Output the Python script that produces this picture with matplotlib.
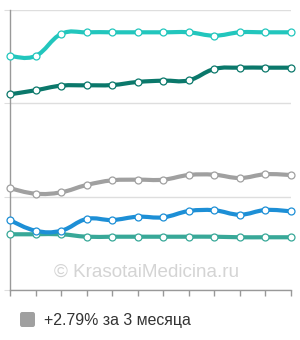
import matplotlib
matplotlib.use("Agg")
import matplotlib.pyplot as plt
from matplotlib.path import Path
from matplotlib.patches import PathPatch, FancyBboxPatch
import numpy as np

plt.rcParams['font.family'] = ['Liberation Sans', 'DejaVu Sans']

months = list(range(12))
series_top = [250.7, 250.7, 274.3, 276.1, 276.1, 276.1, 276.1, 276.1, 272.5, 276.1, 276.1, 276.1]
series_dark = [209.7, 214.0, 218.9, 219.3, 219.6, 222.9, 224.3, 224.7, 236.8, 238.2, 238.2, 238.2]
series_gray = [109.0, 103.2, 104.7, 112.5, 117.5, 118.2, 118.2, 123.2, 123.5, 120.0, 124.0, 123.2]
series_blue = [74.7, 63.5, 63.5, 76.1, 75.0, 78.5, 77.9, 84.6, 85.4, 80.7, 85.7, 84.3]
series_green = [59.7, 59.7, 59.7, 57.1, 57.1, 57.1, 57.1, 57.1, 57.1, 56.5, 56.5, 56.5]
legend_label = "+2.79% за 3 месяца"
watermark = "© KrasotaiMedicina.ru"

colors = {
    'top': '#22c6bd',
    'dark': '#0b786b',
    'gray': '#a0a0a0',
    'blue': '#1d8fd6',
    'green': '#38a898',
}

fig = plt.figure(figsize=(3.0, 3.4), dpi=100)
W, H = 300, 340
ax = fig.add_axes([10 / W, (340 - 290) / H, 281 / W, 280 / H])
ax.set_xlim(0, 11)
ax.set_ylim(0, 300)


def smooth_path(xs, ys, t=0.2):
    xs = np.asarray(xs, float)
    ys = np.asarray(ys, float)
    n = len(xs)
    verts = [(xs[0], ys[0])]
    codes = [Path.MOVETO]
    for i in range(n - 1):
        p0 = np.array([xs[max(i - 1, 0)], ys[max(i - 1, 0)]])
        p1 = np.array([xs[i], ys[i]])
        p2 = np.array([xs[i + 1], ys[i + 1]])
        p3 = np.array([xs[min(i + 2, n - 1)], ys[min(i + 2, n - 1)]])
        c1 = p1 + t * (p2 - p0)
        c2 = p2 - t * (p3 - p1)
        verts += [tuple(c1), tuple(c2), tuple(p2)]
        codes += [Path.CURVE4] * 3
    return Path(verts, codes)


# watermark
ax.text(5.36, 18.5, watermark, ha='center', va='center', fontsize=13.6,
        color='#d4d4d4', zorder=1)

order = [('gray', series_gray), ('green', series_green), ('blue', series_blue),
         ('dark', series_dark), ('top', series_top)]
z = 3
for key, ys in order:
    p = smooth_path(months, ys)
    patch = PathPatch(p, fill=False, edgecolor=colors[key], lw=3.0,
                      capstyle='round', joinstyle='round', zorder=z)
    ax.add_patch(patch)
    z += 1
for key, ys in order:
    ax.plot(months, ys, 'o', ms=5.0, mfc='white', mec=colors[key], mew=0.9,
            zorder=20, clip_on=False)

ax.set_yticks([0, 100, 200, 300])
ax.set_xticks(months)
ax.grid(axis='y', color='#dedede', lw=1.0, zorder=0)
ax.set_axisbelow(True)
ax.tick_params(axis='y', length=4, color='#dedede', labelleft=False)
ax.tick_params(axis='x', length=4, color='#999999', labelbottom=False, width=1)
for s in ['top', 'right']:
    ax.spines[s].set_visible(False)
ax.spines['left'].set_color('#999999')
ax.spines['bottom'].set_color('#999999')
ax.spines['left'].set_linewidth(1)
ax.spines['bottom'].set_linewidth(1)

# legend
box = FancyBboxPatch((20 / W, (340 - 327) / H), 15 / W, 15 / H,
                     boxstyle='round,pad=0,rounding_size=0.007',
                     transform=fig.transFigure, facecolor='#a0a0a0',
                     edgecolor='none')
fig.patches.append(box)
fig.text(44 / W, (340 - 320) / H, legend_label, ha='left', va='center',
         fontsize=11.4, color='#333333')

fig.savefig('out.png', dpi=100)
